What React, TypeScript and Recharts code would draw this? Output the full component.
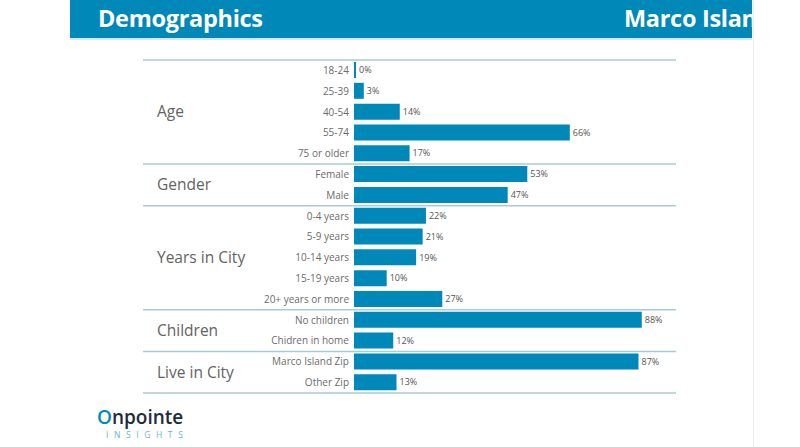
import React from "react";
import { BarChart, Bar, XAxis, YAxis, LabelList } from "recharts";

// Survey groups and their answer rows
const GROUPS = ["Age", "Gender", "Years in City", "Children", "Live in City"];

const AGE_LABELS = ["18-24", "25-39", "40-54", "55-74", "75 or older"];
const AGE_VALUES = [0, 3, 14, 66, 17];

const GENDER_LABELS = ["Female", "Male"];
const GENDER_VALUES = [53, 47];

const YEARS_LABELS = ["0-4 years", "5-9 years", "10-14 years", "15-19 years", "20+ years or more"];
const YEARS_VALUES = [22, 21, 19, 10, 27];

const CHILDREN_LABELS = ["No children", "Chidren in home"];
const CHILDREN_VALUES = [88, 12];

const LIVE_LABELS = ["Marco Island Zip", "Other Zip"];
const LIVE_VALUES = [87, 13];

const GROUP_LABELS = [AGE_LABELS, GENDER_LABELS, YEARS_LABELS, CHILDREN_LABELS, LIVE_LABELS];
const GROUP_VALUES = [AGE_VALUES, GENDER_VALUES, YEARS_VALUES, CHILDREN_VALUES, LIVE_VALUES];

type Row = {
  key: string;
  label: string;
  value: number;
  group: string;
  groupIndex: number;
  groupSize: number;
};

const rows: Row[] = [];
GROUPS.forEach((group, g) => {
  GROUP_LABELS[g].forEach((label, i) => {
    rows.push({
      key: `${group}-${label}`,
      label,
      value: GROUP_VALUES[g][i],
      group,
      groupIndex: i,
      groupSize: GROUP_LABELS[g].length,
    });
  });
});

const BLUE = "#0088b8";
const RULE = "#a9cbd9";
const PLOT_TOP = 60;
const PLOT_BOTTOM = 393;
const BAND = (PLOT_BOTTOM - PLOT_TOP) / rows.length;
const RULE_LEFT = 143;
const RULE_RIGHT = 676;
const FONT = "'Open Sans', 'Noto Sans', sans-serif";

const CategoryTick = (props: any) => {
  const { x, y, index } = props;
  const row = rows[index];
  if (!row) return null;
  const isFirst = row.groupIndex === 0;
  const isLast = row.groupIndex === row.groupSize - 1;
  return (
    <g>
      <text
        x={x}
        y={y}
        dy="0.35em"
        textAnchor="end"
        fontSize={10}
        fill="#6b6b6b"
        fontFamily={FONT}
      >
        {row.label}
      </text>
      {index === 0 && (
        <line x1={RULE_LEFT} x2={RULE_RIGHT} y1={y - BAND / 2} y2={y - BAND / 2} stroke={RULE} strokeWidth={1.5} />
      )}
      {isLast && (
        <line x1={RULE_LEFT} x2={RULE_RIGHT} y1={y + BAND / 2} y2={y + BAND / 2} stroke={RULE} strokeWidth={1.5} />
      )}
      {isFirst && (
        <text
          x={157}
          y={y + ((row.groupSize - 1) * BAND) / 2}
          dy="0.35em"
          fontSize={15.5}
          fill="#636363"
          fontFamily={FONT}
        >
          {row.group}
        </text>
      )}
    </g>
  );
};

export default function App() {
  return (
    <div
      style={{
        position: "absolute",
        left: 0,
        top: 0,
        width: 800,
        height: 447,
        background: "#fff",
        overflow: "hidden",
        fontFamily: FONT,
      }}
    >
      {/* header band */}
      <div
        style={{
          position: "absolute",
          left: 70,
          top: 0,
          width: 682,
          height: 38,
          background: BLUE,
          borderBottom: "2px solid #d4e9f1",
          overflow: "hidden",
          color: "#fff",
          fontWeight: 700,
          fontSize: 23.5,
          lineHeight: "36px",
        }}
      >
        <span style={{ position: "absolute", left: 28, top: 0, letterSpacing: -0.3 }}>Demographics</span>
        <span style={{ position: "absolute", left: 554, top: 0, whiteSpace: "nowrap", letterSpacing: -0.3 }}>
          Marco Island
        </span>
      </div>
      <div
        style={{
          position: "absolute",
          left: 753,
          top: 0,
          width: 1,
          height: 447,
          background: "#eeeeee",
        }}
      />

      <div style={{ position: "absolute", left: 0, top: 0 }}>
        <BarChart
          width={800}
          height={447}
          data={rows}
          layout="vertical"
          margin={{ top: PLOT_TOP, right: 119, bottom: 447 - PLOT_BOTTOM, left: RULE_LEFT }}
        >
          <XAxis type="number" domain={[0, 100]} hide />
          <YAxis
            type="category"
            dataKey="key"
            width={211}
            axisLine={false}
            tickLine={false}
            tickSize={3}
            tickMargin={2}
            interval={0}
            tick={<CategoryTick />}
          />
          <Bar dataKey="value" fill={BLUE} barSize={16} minPointSize={2} isAnimationActive={false}>
            <LabelList
              dataKey="value"
              position="right"
              offset={3}
              formatter={(v: any) => `${v}%`}
              style={{ fontSize: 9, fill: "#555", fontFamily: FONT }}
            />
          </Bar>
        </BarChart>
      </div>

      {/* brand mark */}
      <div style={{ position: "absolute", left: 97, top: 408, lineHeight: 1 }}>
        <div style={{ fontSize: 19, fontWeight: 600, color: "#1d2b3a", height: 22 }}>
          <span style={{ color: BLUE }}>O</span>npointe
        </div>
        <div
          style={{
            fontSize: 8.5,
            color: "#6fb3cf",
            letterSpacing: 5.6,
            marginLeft: 9,
            marginTop: 1,
            whiteSpace: "nowrap",
          }}
        >
          INSIGHTS
        </div>
      </div>
    </div>
  );
}
